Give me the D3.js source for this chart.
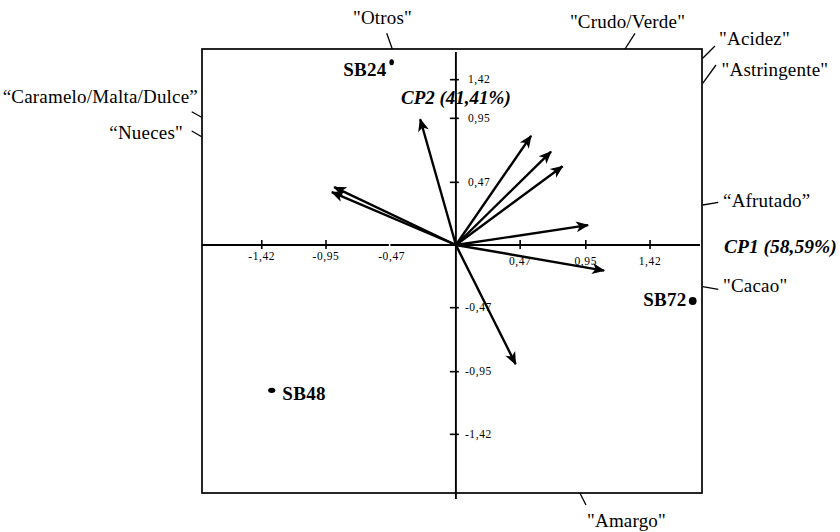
<!DOCTYPE html>
<html><head><meta charset="utf-8">
<script src="https://cdn.jsdelivr.net/npm/d3@7"></script>
<style>
html,body{margin:0;padding:0;background:#fff;}
svg text{font-family:"Liberation Serif","Times New Roman",serif;fill:#000;}
</style></head>
<body><svg id="chart" width="840" height="532"></svg>
<script>
// ---- data ----
const attributes = ["Otros","Caramelo/Malta/Dulce","Nueces","Crudo/Verde","Acidez","Astringente","Afrutado","Cacao","Amargo"];
const loadingsCP1 = [-0.263,-0.897,-0.914,0.554,0.701,0.786,0.974,1.091,0.440];
const loadingsCP2 = [0.950,0.437,0.400,0.825,0.705,0.595,0.150,-0.193,-0.900];
const samples = ["SB24","SB72","SB48"];
const scoresCP1 = [-0.470,1.732,-1.347];
const scoresCP2 = [1.371,-0.420,-1.090];
const xTickValues = [-1.42,-0.95,-0.47,0.47,0.95,1.42];
const xTickLabels = ["-1,42","-0,95","-0,47","0,47","0,95","1,42"];
const yTickValues = [-1.42,-0.95,-0.47,0.47,0.95,1.24];
const yTickLabels = ["-1,42","-0,95","-0,47","0,47","0,95","1,42"];
const axisTitles = ["CP1 (58,59%)","CP2 (41,41%)"];
const attributeLabels = ['"Otros"','\u201CCaramelo/Malta/Dulce\u201D','\u201CNueces"','"Crudo/Verde"','"Acidez"','"Astringente"','\u201CAfrutado\u201D','"Cacao"','"Amargo"'];

// ---- layout ----
const svg = d3.select("#chart");
const box = {l:202, r:702, t:49, b:493};
const x = d3.scaleLinear().domain([-1.857,1.800]).range([box.l, box.r]);
const y = d3.scaleLinear().domain([-1.860,1.470]).range([box.b, box.t]);

// frame
svg.append("rect").attr("x",box.l).attr("y",box.t).attr("width",box.r-box.l).attr("height",box.b-box.t)
  .attr("fill","none").attr("stroke","#000").attr("stroke-width",1.7);

// axes
svg.append("line").attr("x1",box.l).attr("x2",box.r-2).attr("y1",y(0)).attr("y2",y(0))
  .attr("stroke","#000").attr("stroke-width",1.9);
svg.append("line").attr("x1",x(0)).attr("x2",x(0)).attr("y1",box.t+3).attr("y2",box.b+6)
  .attr("stroke","#000").attr("stroke-width",1.9);

// x ticks
xTickValues.forEach((v,i)=>{
  if (v === -0.47) {
    svg.append("line").attr("x1",x(v)-2).attr("x2",x(v)-2).attr("y1",y(0)-1.5).attr("y2",y(0)+1.5)
      .attr("stroke","#fff").attr("stroke-width",1.5);
  } else {
    svg.append("line").attr("x1",x(v)).attr("x2",x(v)).attr("y1",y(0)-5).attr("y2",y(0)+4)
      .attr("stroke","#000").attr("stroke-width",1.6);
  }
  svg.append("text").attr("x",x(v)).attr("y",y(0)+(v<0?15:20))
    .attr("text-anchor","middle").attr("font-size",11.5).attr("letter-spacing",0.6)
    .attr("fill","#222").text(xTickLabels[i]);
});
// y ticks
yTickValues.forEach((v,i)=>{
  svg.append("line").attr("x1",x(0)-6).attr("x2",x(0)+3).attr("y1",y(v)).attr("y2",y(v))
    .attr("stroke","#000").attr("stroke-width",1.6);
  svg.append("text").attr("x",x(0)+(v<0?9:12)).attr("y",y(v)+3.5)
    .attr("text-anchor","start").attr("font-size",11.5).attr("letter-spacing",0.6)
    .attr("fill","#222").text(yTickLabels[i]);
});

// arrow marker
svg.append("defs").append("marker").attr("id","ah")
  .attr("viewBox","-13 -6 15 12").attr("refX",0).attr("refY",0)
  .attr("markerWidth",15).attr("markerHeight",12).attr("markerUnits","userSpaceOnUse")
  .attr("orient","auto")
  .append("path").attr("d","M1,0 L-12,-5.5 L-8.5,0 L-12,5.5 Z").attr("fill","#000");

// loading vectors
attributes.forEach((a,i)=>{
  const tx = x(loadingsCP1[i]), ty = y(loadingsCP2[i]);
  const ang = Math.atan2(ty-y(0), tx-x(0));
  svg.append("line").attr("x1",x(0)).attr("y1",y(0))
    .attr("x2",tx-Math.cos(ang)*1).attr("y2",ty-Math.sin(ang)*1)
    .attr("stroke","#000").attr("stroke-width",2.4).attr("marker-end","url(#ah)");
});

// sample points
const ptLabel = [{dx:-5,dy:13.7,anchor:"end"},{dx:-6,dy:4.5,anchor:"end"},{dx:10.6,dy:9.7,anchor:"start"}];
const ptShape = [{rx:2.3,ry:3},{rx:3.9,ry:3.9},{rx:3.6,ry:2.7}];
samples.forEach((s,i)=>{
  const px = x(scoresCP1[i]), py = y(scoresCP2[i]);
  svg.append("ellipse").attr("cx",px).attr("cy",py).attr("rx",ptShape[i].rx).attr("ry",ptShape[i].ry).attr("fill","#000");
  svg.append("text").attr("x",px+ptLabel[i].dx).attr("y",py+ptLabel[i].dy)
    .attr("text-anchor",ptLabel[i].anchor).attr("font-size",19).attr("font-weight","bold")
    .attr("letter-spacing",0.3).text(s);
});

// axis titles
svg.append("text").attr("x",box.r+22).attr("y",y(0)+7.5).attr("font-size",19.5)
  .attr("font-weight","bold").attr("font-style","italic").text(axisTitles[0]);
svg.append("text").attr("x",x(0)).attr("y",104).attr("text-anchor","middle").attr("font-size",19)
  .attr("font-weight","bold").attr("font-style","italic").text(axisTitles[1]);

// attribute labels with leader lines (placement around the frame)
const place = [
  {ax:392.3,ay:49, bx:386.7,by:33.3, tx:382.5,ty:24, anchor:"middle"},
  {ax:201.7,ay:117.3,bx:191.7,by:111.7,tx:198,ty:103,anchor:"end"},
  {ax:201.7,ay:136.7,bx:191.7,by:131, tx:183,ty:139,anchor:"end"},
  {ax:625,ay:49, bx:635,by:33.3, tx:627.5,ty:28,anchor:"middle"},
  {ax:702.7,ay:58.3,bx:715,by:46, tx:719,ty:45,anchor:"start"},
  {ax:702.7,ay:83.3,bx:716,by:65, tx:721.5,ty:76,anchor:"start"},
  {ax:702.7,ay:205,bx:718.3,by:202.3, tx:723,ty:207,anchor:"start"},
  {ax:702.7,ay:286.7,bx:718.3,by:289.3,tx:723,ty:292,anchor:"start"},
  {ax:580,ay:493.3,bx:586,by:505, tx:587,ty:527,anchor:"start"}
];
attributeLabels.forEach((t,i)=>{
  const p = place[i];
  svg.append("line").attr("x1",p.ax).attr("y1",p.ay).attr("x2",p.bx).attr("y2",p.by)
    .attr("stroke","#000").attr("stroke-width",1.3);
  svg.append("text").attr("x",p.tx).attr("y",p.ty).attr("text-anchor",p.anchor)
    .attr("font-size",19).attr("letter-spacing",0.2).text(t);
});
</script></body></html>
